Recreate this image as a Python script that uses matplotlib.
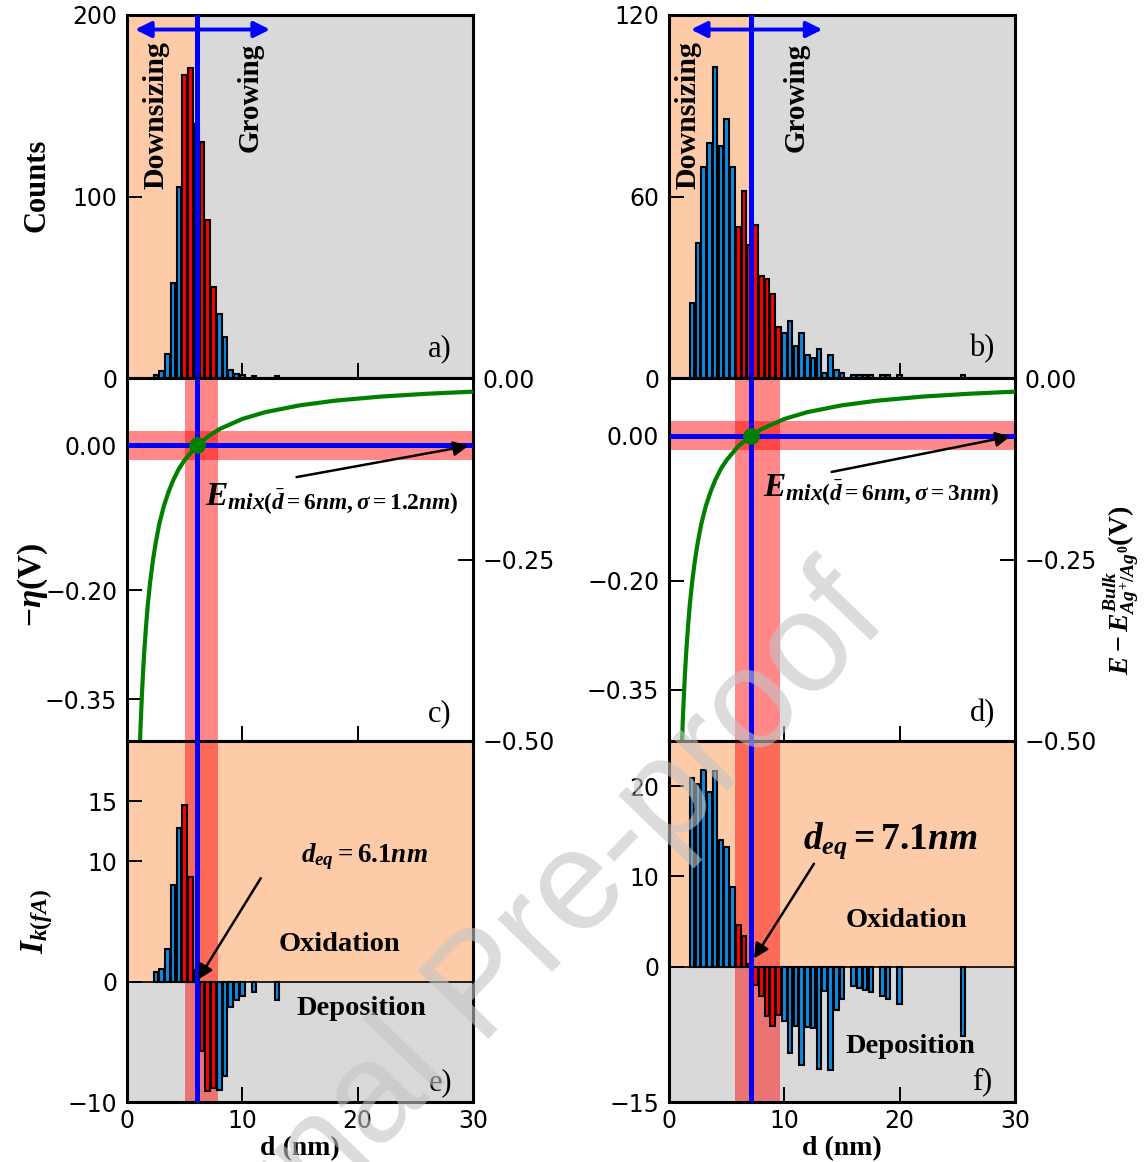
import matplotlib.pyplot as plt

plt.rcParams['font.family'] = 'DejaVu Sans'
plt.rcParams['mathtext.fontset'] = 'custom'
plt.rcParams['mathtext.rm'] = 'Liberation Serif:bold'
plt.rcParams['mathtext.bf'] = 'Liberation Serif:bold'
plt.rcParams['mathtext.it'] = 'Liberation Serif:italic:bold'

# histogram bins (nm), left column (mean 6 nm, sigma 1.2 nm)
a_d = [2.5, 3.0, 3.5, 4.0, 4.5, 5.0, 5.5, 6.0, 6.5, 7.0, 7.5, 8.0, 8.5, 9.0,
       9.5, 10.0, 11.0, 13.0]
a_counts = [1.5, 3.7, 13.4, 52.5, 105, 167, 171, 140, 130, 87, 50, 35, 22.4,
            4.2, 2.4, 1.5, 1, 1]
e_current = [0.77, 1.05, 2.7, 8.05, 12.75, 14.7, 8.66, 0.97, -5.78, -9.1,
             -8.8, -9.0, -7.8, -2.1, -1.55, -1.2, -0.83, -1.55]

# right column (mean 6 nm, sigma 3 nm)
b_d = [2.0, 2.5, 3.0, 3.5, 4.0, 4.5, 5.0, 5.5, 6.0, 6.5, 7.0, 7.5, 8.0, 8.5,
       9.0, 9.5, 10.0, 10.5, 11.0, 11.5, 12.0, 12.5, 13.0, 13.5, 14.0, 14.5,
       15.0, 16.0, 16.5, 17.0, 17.5, 18.5, 19.0, 20.0, 25.5]
b_counts = [24.8, 44.6, 69.6, 77.7, 102.7, 76.6, 85.6, 69.6, 49.8, 61.7, 44,
            50.7, 33.8, 32.8, 27.9, 16.9, 14.9, 19, 10.6, 14.9, 7.5, 6.6, 9.7,
            1.8, 7.7, 2.8, 1.7, 1, 1, 1, 1, 1, 1, 1, 1]
f_current = [20.85, 20.2, 21.8, 19.4, 21.7, 14.0, 13.2, 8.8, 4.6, 3.4, 0.3,
             -2.04, -3.2, -5.5, -6.6, -5.4, -6.0, -9.6, -6.6, -10.9, -6.7,
             -6.85, -11.3, -2.7, -11.5, -4.8, -3.6, -2.2, -2.4, -2.6, -2.85,
             -3.3, -3.6, -4.1, -7.7]

curve_d = [1.13, 1.2, 1.3, 1.4, 1.5, 1.65, 1.8, 2.0, 2.25, 2.5, 2.8, 3.2, 3.6,
           4.0, 4.5, 5.0, 6.0, 7.0, 8.0, 10.0, 12.0, 15.0, 18.0, 22.0, 26.0, 30.0]
curve_e = [-0.500, -0.470, -0.434, -0.403, -0.376, -0.342, -0.313, -0.282,
           -0.251, -0.226, -0.201, -0.176, -0.157, -0.141, -0.125, -0.113,
           -0.094, -0.081, -0.0705, -0.0564, -0.047, -0.0376, -0.0313,
           -0.0256, -0.0217, -0.0188]

left_params = dict(d_eq=6.1, e_mix=-0.0925, band=(5.03, 7.87), red=(5.0, 7.5),
                   grow_arrow=(0.7, 12.4), ylim_e=(-10, 20),
                   ticks_e=[-10, 0, 10, 15], ylim_h=200, ticks_h=[0, 100, 200])
right_params = dict(d_eq=7.1, e_mix=-0.0794, band=(5.72, 9.63), red=(6.0, 9.5),
                    grow_arrow=(1.9, 13.3), ylim_e=(-15, 25),
                    ticks_e=[-15, 0, 10, 20], ylim_h=120, ticks_h=[0, 60, 120])

PEACH = '#FDCBA7'
GRAY = '#D9D9D9'
BARBLUE = '#0A8CE6'
SERIF = 'Liberation Serif'

fig = plt.figure(figsize=(11.46, 11.62), dpi=100)
W, H = 346 / 1146, 363 / 1162
lefts = [127 / 1146, 669 / 1146]
bottoms = [1 - 378 / 1162, 1 - 741 / 1162, 1 - 1102 / 1162]


def style(ax):
    ax.set_xlim(0, 30)
    ax.set_xticks([0, 10, 20, 30])
    ax.tick_params(direction='in', length=11, width=1.4, labelsize=17, pad=7)
    for s in ax.spines.values():
        s.set_linewidth(2.2)


def bar_colors(d, red):
    return ['red' if red[0] <= x <= red[1] else BARBLUE for x in d]


def draw_column(col, hist_d, counts, current, p, sigma_txt, letters):
    x0 = lefts[col]
    d_eq, e_mix = p['d_eq'], p['e_mix']
    colors = bar_colors(hist_d, p['red'])

    # --- histogram of particle sizes
    ax1 = fig.add_axes([x0, bottoms[0], W, H])
    style(ax1)
    ax1.axvspan(0, d_eq, color=PEACH, zorder=0, lw=0)
    ax1.axvspan(d_eq, 30, color=GRAY, zorder=0, lw=0)
    ax1.bar(hist_d, counts, width=0.4, color=colors, edgecolor='k',
            linewidth=1.5, zorder=3)
    ax1.axvline(d_eq, color='blue', lw=3.6, zorder=4)
    ax1.set_ylim(0, p['ylim_h'])
    ax1.set_yticks(p['ticks_h'])
    ax1.tick_params(labelbottom=False)
    ytop = 0.96 * p['ylim_h']
    ax1.annotate('', xy=(p['grow_arrow'][0], ytop), xytext=(p['grow_arrow'][1], ytop),
                 arrowprops=dict(arrowstyle='<|-|>', color='blue', lw=2.8,
                                 mutation_scale=24, shrinkA=0, shrinkB=0), zorder=5)
    ax1.text(0.084 if col == 0 else 0.055, 0.725, 'Downsizing', rotation=90,
             transform=ax1.transAxes, ha='center', va='center',
             family=SERIF, weight='bold', fontsize=21.5)
    ax1.text(0.355 if col == 0 else 0.367, 0.774, 'Growing', rotation=90,
             transform=ax1.transAxes, ha='center', va='center',
             family=SERIF, weight='bold', fontsize=21)
    ax1.text(0.905, 0.08, letters[0], transform=ax1.transAxes, ha='center',
             va='center', family=SERIF, fontsize=22)

    # --- overpotential panel
    ax2 = fig.add_axes([x0, bottoms[1], W, H])
    style(ax2)
    ax2.set_ylim(-0.5 - e_mix, -e_mix)
    ax2.set_yticks([0.0, -0.2, -0.35], ['0.00', '\u22120.20', '\u22120.35'])
    ax2.tick_params(labelbottom=False)
    ax2.axvspan(*p['band'], color='red', alpha=0.47, lw=0, zorder=1)
    ax2.axhspan(-0.02, 0.02, color='red', alpha=0.47, lw=0, zorder=1)
    ax2.axvline(d_eq, color='blue', lw=3.6, zorder=3)
    ax2.axhline(0, color='blue', lw=3.6, zorder=3)
    ax2r = ax2.twinx()
    ax2r.set_ylim(-0.5, 0)
    ax2r.set_yticks([0, -0.25, -0.5], ['0.00', '\u22120.25', '\u22120.50'])
    ax2r.tick_params(direction='in', length=11, width=1.4, labelsize=17, pad=7)
    ax2r.plot(curve_d, curve_e, color='green', lw=3, zorder=4)
    ax2r.plot([d_eq], [e_mix], 'o', color='green', ms=11, zorder=5)
    tail = (14.7, -0.044) if col == 0 else (14.1, -0.05)
    ax2.annotate('', xy=(29.6, -0.001), xytext=tail,
                 arrowprops=dict(arrowstyle='-|>', color='k', lw=1.8,
                                 mutation_scale=22, shrinkA=0, shrinkB=0), zorder=6)
    ax2.text(6.8 if col == 0 else 8.15, -0.075,
             r'$E_{mix(\bar{d}=6nm,\sigma=%s)}$' % sigma_txt,
             fontsize=24, ha='left', va='center', zorder=6)
    ax2.text(0.905, 0.075, letters[1], transform=ax2.transAxes, ha='center',
             va='center', family=SERIF, fontsize=22)

    # --- oxidation / deposition currents
    ax3 = fig.add_axes([x0, bottoms[2], W, 361 / 1162])
    style(ax3)
    lo, hi = p['ylim_e']
    ax3.axhspan(0, hi, color=PEACH, lw=0, zorder=0)
    ax3.axhspan(lo, 0, color=GRAY, lw=0, zorder=0)
    ax3.axvspan(*p['band'], color='red', alpha=0.47, lw=0, zorder=1)
    ax3.axhline(0, color='k', lw=1.2, zorder=2)
    ax3.bar(hist_d, current, width=0.4, color=colors, edgecolor='k',
            linewidth=1.5, zorder=3)
    ax3.axvline(d_eq, color='blue', lw=3.6, zorder=4)
    ax3.set_ylim(lo, hi)
    ax3.set_yticks(p['ticks_e'])
    ax3.set_xlabel('d (nm)', family=SERIF, weight='bold', fontsize=20, labelpad=2)
    ax3.tick_params(axis='x', pad=5)
    return ax1, ax2, ax2r, ax3


a1, a2, a2r, a3 = draw_column(0, a_d, a_counts, e_current, left_params,
                              '1.2nm', ['a)', 'c)', 'e)'])
b1, b2, b2r, b3 = draw_column(1, b_d, b_counts, f_current, right_params,
                              '3nm', ['b)', 'd)', 'f)'])

# annotations in bottom panels
a3.annotate('', xy=(6.16, 0.17), xytext=(11.6, 8.6),
            arrowprops=dict(arrowstyle='-|>', color='k', lw=1.8,
                            mutation_scale=22, shrinkA=0, shrinkB=0), zorder=6)
a3.text(20.6, 10.4, r'$d_{eq}=6.1nm$', fontsize=19.5,
        ha='center', va='center', zorder=6)
a3.text(18.4, 3.1, 'Oxidation', family=SERIF, weight='bold', fontsize=20.5,
        ha='center', va='center', zorder=6)
a3.text(20.3, -2.2, 'Deposition', family=SERIF, weight='bold', fontsize=20.5,
        ha='center', va='center', zorder=6)
a3.text(0.905, 0.053, 'e)', transform=a3.transAxes, ha='center', va='center',
        family=SERIF, fontsize=22)

b3.annotate('', xy=(7.37, 0.9), xytext=(12.57, 11.4),
            arrowprops=dict(arrowstyle='-|>', color='k', lw=1.8,
                            mutation_scale=22, shrinkA=0, shrinkB=0), zorder=6)
b3.text(19.2, 14.0, r'$d_{eq}=7.1nm$', fontsize=27,
        ha='center', va='center', zorder=6)
b3.text(20.6, 5.1, 'Oxidation', family=SERIF, weight='bold', fontsize=20.5,
        ha='center', va='center', zorder=6)
b3.text(20.9, -8.9, 'Deposition', family=SERIF, weight='bold', fontsize=20.5,
        ha='center', va='center', zorder=6)
b3.text(0.905, 0.055, 'f)', transform=b3.transAxes, ha='center', va='center',
        family=SERIF, fontsize=22)

# axis labels
a1.set_ylabel('Counts', family=SERIF, weight='bold', fontsize=22)
a1.yaxis.set_label_coords(-0.217, 0.53)
a2.set_ylabel(r'$-\eta\mathrm{(V)}$', fontsize=24)
a2.yaxis.set_label_coords(-0.223, 0.43)
a3.set_ylabel(r'$I_{k(fA)}$', fontsize=24)
a3.yaxis.set_label_coords(-0.208, 0.5)
b2r.set_ylabel(r'$E-E^{Bulk}_{Ag^{+}/Ag^{0}}\mathrm{(V)}$', fontsize=20)
b2r.yaxis.set_label_coords(1.25, 0.416)

# watermark
fig.text(0.422, 0.148, 'Journal Pre-proof', rotation=46, rotation_mode='anchor',
         ha='center', va='center', fontsize=102, color='#C4C4C4', alpha=0.6,
         family='Liberation Sans', zorder=10)

fig.savefig('out.png', dpi=100)
